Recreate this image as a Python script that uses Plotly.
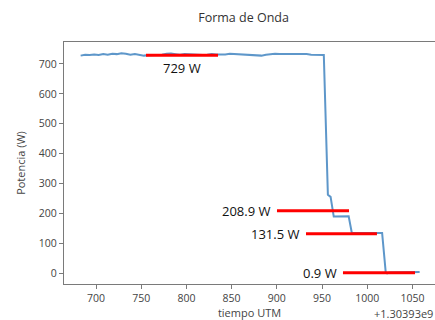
import plotly.graph_objects as go

# Power waveform, time in seconds offset from 1.30393e9
t_flat = [683, 688, 693, 698, 703, 708, 713, 718, 723, 728, 733, 738, 743, 748,
          753, 758, 763, 768, 773, 778, 783, 788, 793, 798, 803, 808, 813, 818,
          823, 828, 833, 838, 843, 848, 853, 858, 863, 868, 873, 878, 883, 888,
          893, 898, 903, 908, 913, 918, 923, 928, 933, 938, 943, 948, 952]
p_flat = [728, 731, 730, 732, 730, 733, 731, 734, 733, 736, 734, 731, 733, 730,
          728, 729, 730, 729, 731, 734, 735, 733, 731, 733, 732, 730, 731, 730,
          731, 733, 732, 731, 732, 734, 733, 731, 732, 730, 729, 727, 728, 731,
          733, 734, 733, 733, 734, 733, 732, 732, 733, 731, 731, 730, 730]
t_drop = [956.5, 959.5, 963, 979.5, 983, 1016.5, 1020.5, 1022, 1025, 1058]
p_drop = [262, 255, 189, 190, 134, 134, 2, -1, 2, 3]

time = t_flat + t_drop
power = p_flat + p_drop

# Marked power levels and the span of each marker line
levels = [729, 208.9, 131.5, 0.9]
level_labels = ["729 W", "208.9 W", "131.5 W", "0.9 W"]
level_start = [755.3, 900.2, 932.3, 973.2]
level_end = [835.0, 979.9, 1010.8, 1052.9]

x_ticks = [700, 750, 800, 850, 900, 950, 1000, 1050]
y_ticks = [0, 100, 200, 300, 400, 500, 600, 700]

fig = go.Figure()
fig.add_trace(go.Scatter(x=time, y=power, mode="lines",
                         line=dict(color="#5e97ca", width=2),
                         showlegend=False, hoverinfo="skip"))

for lv, xs, xe in zip(levels, level_start, level_end):
    fig.add_trace(go.Scatter(x=[xs, xe], y=[lv, lv], mode="lines",
                             line=dict(color="#ff0000", width=3),
                             showlegend=False, hoverinfo="skip"))

label_font = dict(family="Open Sans", size=13, color="#111111")
# first label sits centred under its line, the rest to the left of theirs
fig.add_annotation(x=(level_start[0] + level_end[0]) / 2, y=levels[0],
                   text=level_labels[0], showarrow=False, yshift=-13,
                   xanchor="center", yanchor="middle", font=label_font)
for lv, lab, xs in zip(levels[1:], level_labels[1:], level_start[1:]):
    fig.add_annotation(x=xs, y=lv, text=lab, showarrow=False, xshift=-4,
                       xanchor="right", yanchor="middle", font=label_font)

# axis offset text
fig.add_annotation(x=1, y=0, xref="paper", yref="paper", text="+1.30393e9",
                   showarrow=False, xanchor="right", yanchor="top", yshift=-20,
                   font=dict(family="Open Sans", size=11, color="#444444"))

axis_common = dict(showgrid=False, zeroline=False, showline=True,
                   linecolor="#7a7a7a", linewidth=1.2, ticks="outside",
                   ticklen=4, tickcolor="#7a7a7a",
                   tickfont=dict(family="Open Sans", size=10.5, color="#444444"))

fig.update_layout(
    width=435, height=320,
    margin=dict(l=64, r=0, t=42, b=36),
    paper_bgcolor="white", plot_bgcolor="white",
    title=dict(text="Forma de Onda", x=0.56, xanchor="center", y=0.945,
               yanchor="middle",
               font=dict(family="Open Sans", size=12.5, color="#333333")),
    xaxis=dict(range=[664.6, 1075], tickvals=x_ticks, mirror=True,
               title=dict(text="tiempo UTM", standoff=2,
                          font=dict(family="Open Sans", size=11, color="#444444")),
               **axis_common),
    yaxis=dict(range=[-36.8, 773.6], tickvals=y_ticks, mirror=False,
               title=dict(text="Potencia (W)", standoff=10,
                          font=dict(family="Open Sans", size=11, color="#444444")),
               **axis_common),
)

fig.write_html("out.html")
